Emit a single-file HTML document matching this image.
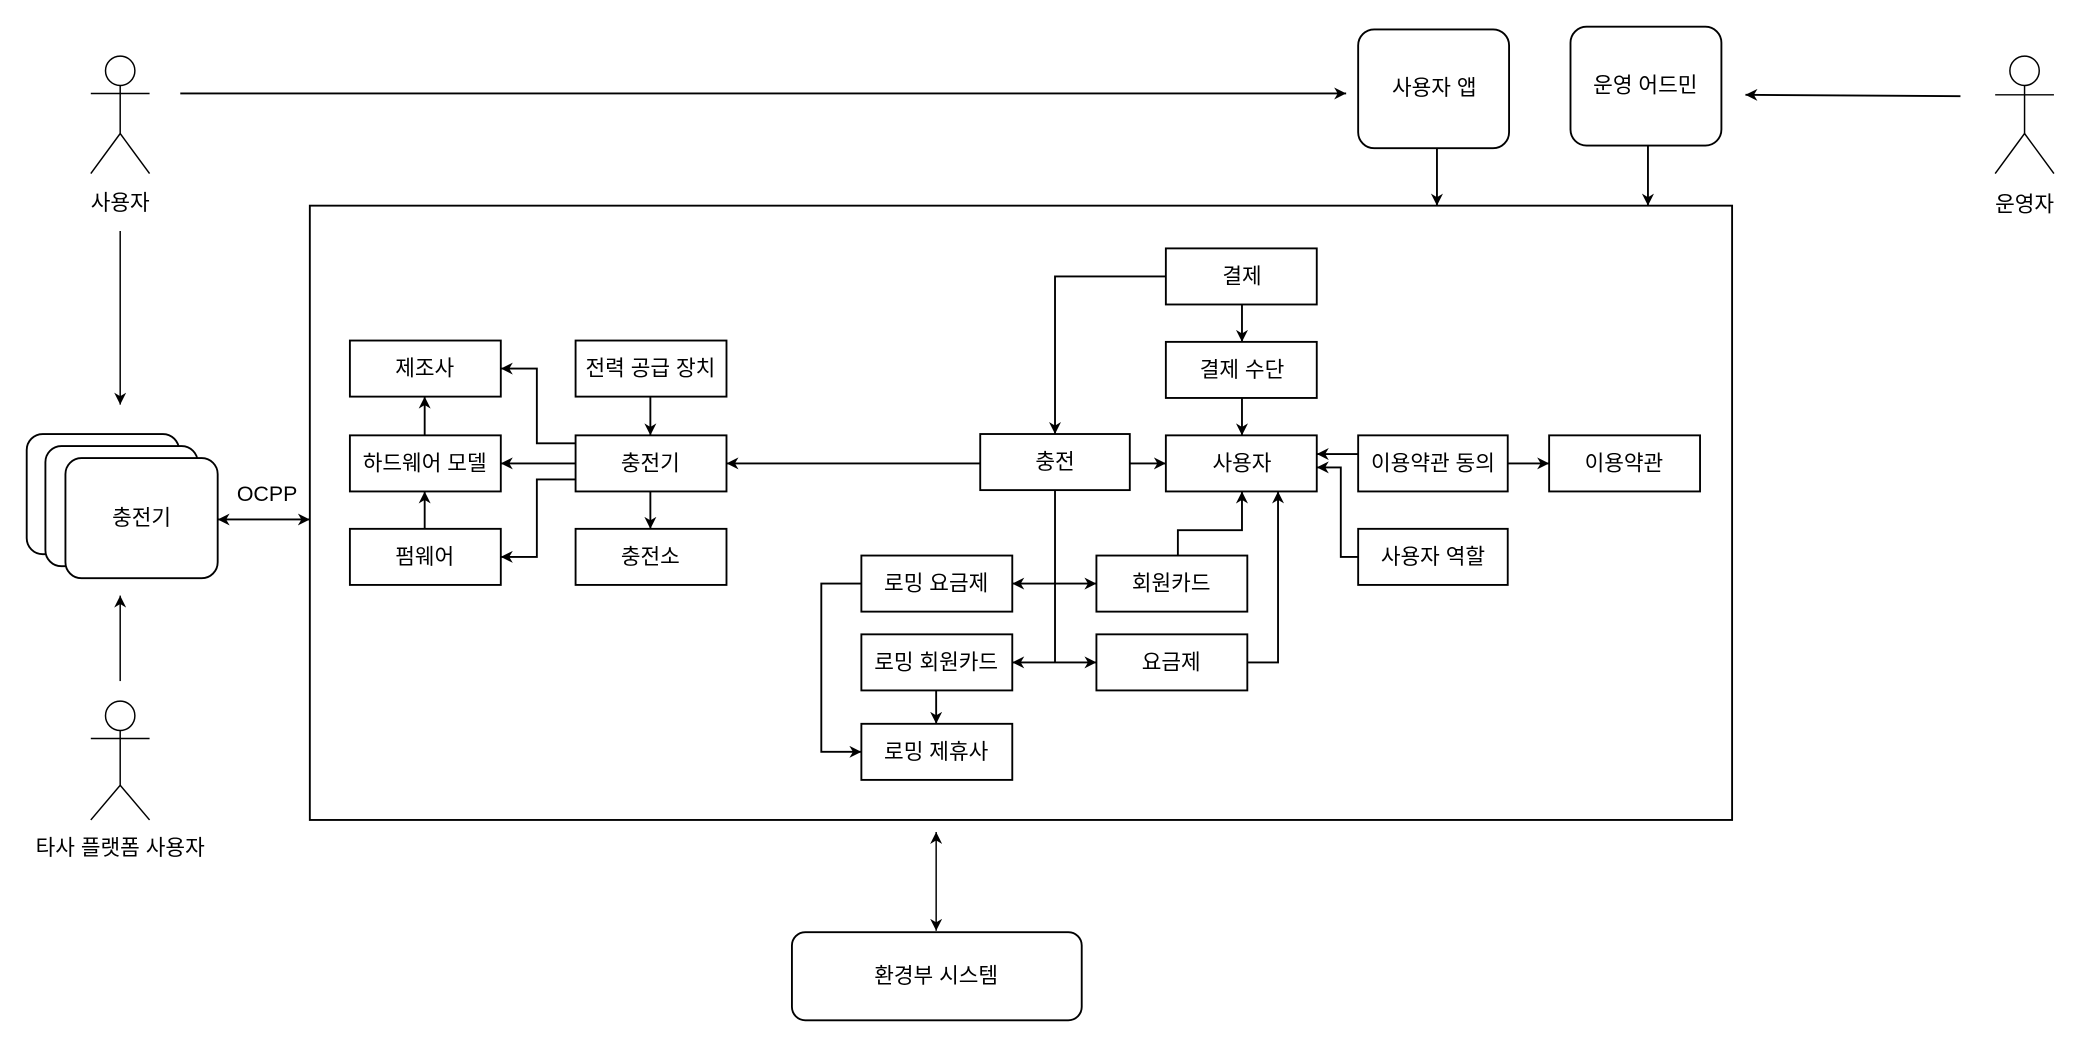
<!DOCTYPE html>
<html><head><meta charset="utf-8"><style>
html,body{margin:0;padding:0;background:#fff;}
svg{display:block;}
text{font-family:"Liberation Sans","Noto Sans CJK KR",sans-serif;font-size:16px;fill:#000;text-anchor:middle;dominant-baseline:central;}
</style></head><body>
<svg width="2094" height="1055" viewBox="0 0 1568 790" preserveAspectRatio="none" xmlns="http://www.w3.org/2000/svg">
<defs>
<marker id="a" viewBox="0 0 10 10" refX="10" refY="5" markerWidth="9" markerHeight="9" markerUnits="userSpaceOnUse" orient="auto-start-reverse">
<path d="M0,0 L10,5 L0,10 L3,5 Z" fill="#000"/>
</marker>
</defs>
<g fill="none" stroke="#000" stroke-width="1.4">
<g stroke-width="1.1">
<circle cx="90" cy="53" r="11"/><line x1="90" y1="64" x2="90" y2="100"/><line x1="68" y1="70" x2="112" y2="70"/><path d="M68,130 L90,100 L112,130"/>
<circle cx="1516" cy="53" r="11"/><line x1="1516" y1="64" x2="1516" y2="100"/><line x1="1494" y1="71" x2="1538" y2="71"/><path d="M1494,130 L1516,100 L1538,130"/>
<circle cx="90" cy="536" r="11"/><line x1="68" y1="553" x2="112" y2="553"/><line x1="90" y1="547" x2="90" y2="588"/><path d="M68,614 L90,588 L112,614"/>
</g>
<rect x="1017" y="22" width="113" height="89" rx="12"/>
<rect x="1176" y="20" width="113" height="89" rx="12"/>
<line x1="135" y1="70" x2="1008" y2="70" marker-end="url(#a)"/>
<line x1="1468" y1="72" x2="1307" y2="71" marker-end="url(#a)"/>
<line x1="1076" y1="111" x2="1076" y2="154" marker-end="url(#a)"/>
<line x1="1234" y1="109" x2="1234" y2="154" marker-end="url(#a)"/>
<rect x="232" y="154" width="1065" height="460"/>
<line x1="90" y1="173" x2="90" y2="303" stroke-width="1.1" marker-end="url(#a)"/>
<rect x="20" y="325" width="114" height="90" rx="12" fill="#fff"/>
<rect x="34" y="334" width="114" height="90" rx="12" fill="#fff"/>
<rect x="49" y="343" width="114" height="90" rx="12" fill="#fff"/>
<line x1="163" y1="389" x2="232" y2="389" marker-start="url(#a)" marker-end="url(#a)"/>
<line x1="90" y1="510" x2="90" y2="446" stroke-width="1.1" marker-end="url(#a)"/>
<line x1="701" y1="697" x2="701" y2="623" stroke-width="1.1" marker-start="url(#a)" marker-end="url(#a)"/>
<rect x="593" y="698" width="217" height="66" rx="10"/>
<rect x="262" y="255" width="113" height="42"/>
<rect x="431" y="255" width="113" height="42"/>
<rect x="262" y="326" width="113" height="42"/>
<rect x="431" y="326" width="113" height="42"/>
<rect x="262" y="396" width="113" height="42"/>
<rect x="431" y="396" width="113" height="42"/>
<rect x="873" y="186" width="113" height="42"/>
<rect x="873" y="256" width="113" height="42"/>
<rect x="734" y="325" width="112" height="42"/>
<rect x="873" y="326" width="113" height="42"/>
<rect x="1017" y="326" width="112" height="42"/>
<rect x="1160" y="326" width="113" height="42"/>
<rect x="1017" y="396" width="112" height="42"/>
<rect x="645" y="416" width="113" height="42"/>
<rect x="821" y="416" width="113" height="42"/>
<rect x="645" y="475" width="113" height="42"/>
<rect x="821" y="475" width="113" height="42"/>
<rect x="645" y="542" width="113" height="42"/>
<polyline points="431,332 402,332 402,276 375,276" marker-end="url(#a)"/>
<line x1="431" y1="347" x2="375" y2="347" marker-end="url(#a)"/>
<polyline points="431,359 402,359 402,417 375,417" marker-end="url(#a)"/>
<line x1="318" y1="326" x2="318" y2="297" marker-end="url(#a)"/>
<line x1="318" y1="396" x2="318" y2="368" marker-end="url(#a)"/>
<line x1="487" y1="297" x2="487" y2="326" marker-end="url(#a)"/>
<line x1="487" y1="368" x2="487" y2="396" marker-end="url(#a)"/>
<line x1="734" y1="347" x2="544" y2="347" marker-end="url(#a)"/>
<polyline points="873,207 790,207 790,325" marker-end="url(#a)"/>
<line x1="930" y1="228" x2="930" y2="256" marker-end="url(#a)"/>
<line x1="930" y1="298" x2="930" y2="326" marker-end="url(#a)"/>
<line x1="846" y1="347" x2="873" y2="347" marker-end="url(#a)"/>
<line x1="1017" y1="340" x2="986" y2="340" marker-end="url(#a)"/>
<polyline points="1017,417 1004,417 1004,350 986,350" marker-end="url(#a)"/>
<line x1="1129" y1="347" x2="1160" y2="347" marker-end="url(#a)"/>
<line x1="790" y1="367" x2="790" y2="496"/>
<line x1="790" y1="437" x2="758" y2="437" marker-end="url(#a)"/>
<line x1="790" y1="437" x2="821" y2="437" marker-end="url(#a)"/>
<line x1="790" y1="496" x2="758" y2="496" marker-end="url(#a)"/>
<line x1="790" y1="496" x2="821" y2="496" marker-end="url(#a)"/>
<polyline points="882,416 882,397 930,397 930,368" marker-end="url(#a)"/>
<polyline points="934,496 957,496 957,368" marker-end="url(#a)"/>
<polyline points="645,437 615,437 615,563 645,563" marker-end="url(#a)"/>
<line x1="701" y1="517" x2="701" y2="542" marker-end="url(#a)"/>
</g>
<text x="90" y="152">사용자</text>
<text x="1516" y="153">운영자</text>
<text x="90" y="635">타사 플랫폼 사용자</text>
<text x="1074" y="66">사용자 앱</text>
<text x="1232" y="64">운영 어드민</text>
<text x="106" y="388">충전기</text>
<text x="200" y="370">OCPP</text>
<text x="701" y="731">환경부 시스템</text>
<text x="318" y="276">제조사</text>
<text x="487" y="276">전력 공급 장치</text>
<text x="318" y="347">하드웨어 모델</text>
<text x="487" y="347">충전기</text>
<text x="318" y="417">펌웨어</text>
<text x="487" y="417">충전소</text>
<text x="930" y="207">결제</text>
<text x="930" y="277">결제 수단</text>
<text x="790" y="346">충전</text>
<text x="930" y="347">사용자</text>
<text x="1073" y="347">이용약관 동의</text>
<text x="1216" y="347">이용약관</text>
<text x="1073" y="417">사용자 역할</text>
<text x="701" y="437">로밍 요금제</text>
<text x="877" y="437">회원카드</text>
<text x="701" y="496">로밍 회원카드</text>
<text x="877" y="496">요금제</text>
<text x="701" y="563">로밍 제휴사</text>
</svg>
</body></html>
